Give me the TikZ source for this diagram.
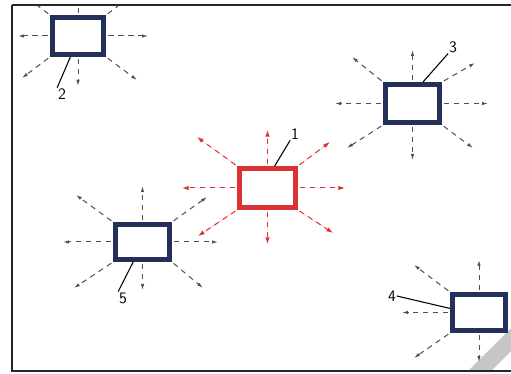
\documentclass[tikz,border=0pt]{standalone}
\usetikzlibrary{arrows.meta}
\definecolor{navy}{RGB}{36,48,90}
\definecolor{signal}{RGB}{220,50,54}
\definecolor{raygray}{RGB}{80,80,80}
\tikzset{
  unit/.style={draw=navy, line width=3.8pt, fill=white, inner sep=0pt},
  hot/.style={unit, draw=signal, line width=3.6pt},
  ray/.style={draw=raygray, line width=0.75pt, dash pattern=on 4pt off 3.5pt,
    shorten <=1.5pt, -{Latex[length=4.5pt,width=2.6pt]}},
  hotray/.style={ray, draw=signal, fill=signal, -{Latex[length=5pt,width=3.4pt]}},
  leader/.style={draw=black, line width=0.8pt},
  tag/.style={font=\sffamily\large, inner sep=0.5pt}
}
\begin{document}
\begin{tikzpicture}[x=0.75pt, y=-0.75pt]
  \useasboundingbox (0,0) rectangle (511,374);
  \fill[white] (0,0) rectangle (511,374);

  % paper shadow band in the lower right corner
  \fill[gray!45] (467,372) -- (490,372) -- (513,349) -- (513,326) -- cycle;

  % outer frame
  \draw[line width=2.2pt, black!85] (12,5) -- (12,371) -- (520,371);
  \draw[line width=2.2pt, black!85] (12,5) -- (520,5);

  % units
  \node[unit, minimum width=38.5pt, minimum height=27.8pt] (b2) at (78,36) {};
  \node[unit, minimum width=40.5pt, minimum height=28.5pt] (b3) at (412.5,103.5) {};
  \node[hot,  minimum width=42pt,   minimum height=29.3pt] (b1) at (267.5,188) {};
  \node[unit, minimum width=40.5pt, minimum height=26.3pt] (b5) at (142.5,242) {};
  \node[unit, minimum width=39.8pt, minimum height=27pt]   (b4) at (479,312.5) {};

  % rays of unit 2
  \draw[ray] (b2.west) -- (18,36);
  \draw[ray] (b2.east) -- (148,36);
  \draw[ray] (b2.south) -- (78,86);
  \draw[ray] (b2.south west) -- (22,78);
  \draw[ray] (b2.south east) -- (137,80);
  \draw[ray, -] (b2.north) -- (78,6);
  \draw[ray, -] (b2.north west) -- (38,6);
  \draw[ray, -] (b2.north east) -- (118,6);

  % rays of unit 3
  \draw[ray] (b3.north) -- (412.5,50);
  \draw[ray] (b3.south) -- (412.5,160);
  \draw[ray] (b3.west) -- (335,103.5);
  \draw[ray] (b3.east) -- (488,103.5);
  \draw[ray] (b3.north west) -- (352,57);
  \draw[ray] (b3.north east) -- (475,63);
  \draw[ray] (b3.south west) -- (347,148);
  \draw[ray] (b3.south east) -- (473,148);

  % rays of unit 1
  \draw[hotray] (b1.north) -- (267.5,130);
  \draw[hotray] (b1.south) -- (267.5,244);
  \draw[hotray] (b1.west) -- (182,188);
  \draw[hotray] (b1.east) -- (345,188);
  \draw[hotray] (b1.north west) -- (197,137);
  \draw[hotray] (b1.north east) -- (330,142);
  \draw[hotray] (b1.south west) -- (198,236);
  \draw[hotray] (b1.south east) -- (333,233);

  % rays of unit 5
  \draw[ray] (b5.north) -- (142.5,186);
  \draw[ray] (b5.south) -- (142.5,290);
  \draw[ray] (b5.west) -- (63,242);
  \draw[ray] (b5.east) -- (218,242);
  \draw[ray] (b5.north west) -- (76,195);
  \draw[ray] (b5.north east) -- (207,197);
  \draw[ray] (b5.south west) -- (74,288);
  \draw[ray] (b5.south east) -- (203,288);

  % rays of unit 4
  \draw[ray] (b4.north) -- (479,260);
  \draw[ray] (b4.south) -- (479,362);
  \draw[ray] (b4.west) -- (402,312.5);
  \draw[ray] (b4.north west) -- (414,265);
  \draw[ray] (b4.south west) -- (414,358);

  % reference numbers
  \node[tag] (t1) at (295,134) {1};
  \node[tag] (t2) at (62,94) {2};
  \node[tag] (t3) at (453,47) {3};
  \node[tag] (t4) at (392,296) {4};
  \node[tag] (t5) at (123,298) {5};
  \draw[leader] (b1.72) -- (t1.south west);
  \draw[leader] (b2.250) -- (t2.north west);
  \draw[leader] (b3.64) -- (t3.south west);
  \draw[leader] (b4.172) -- (t4.east);
  \draw[leader] (b5.245) -- (t5.north west);
\end{tikzpicture}
\end{document}
